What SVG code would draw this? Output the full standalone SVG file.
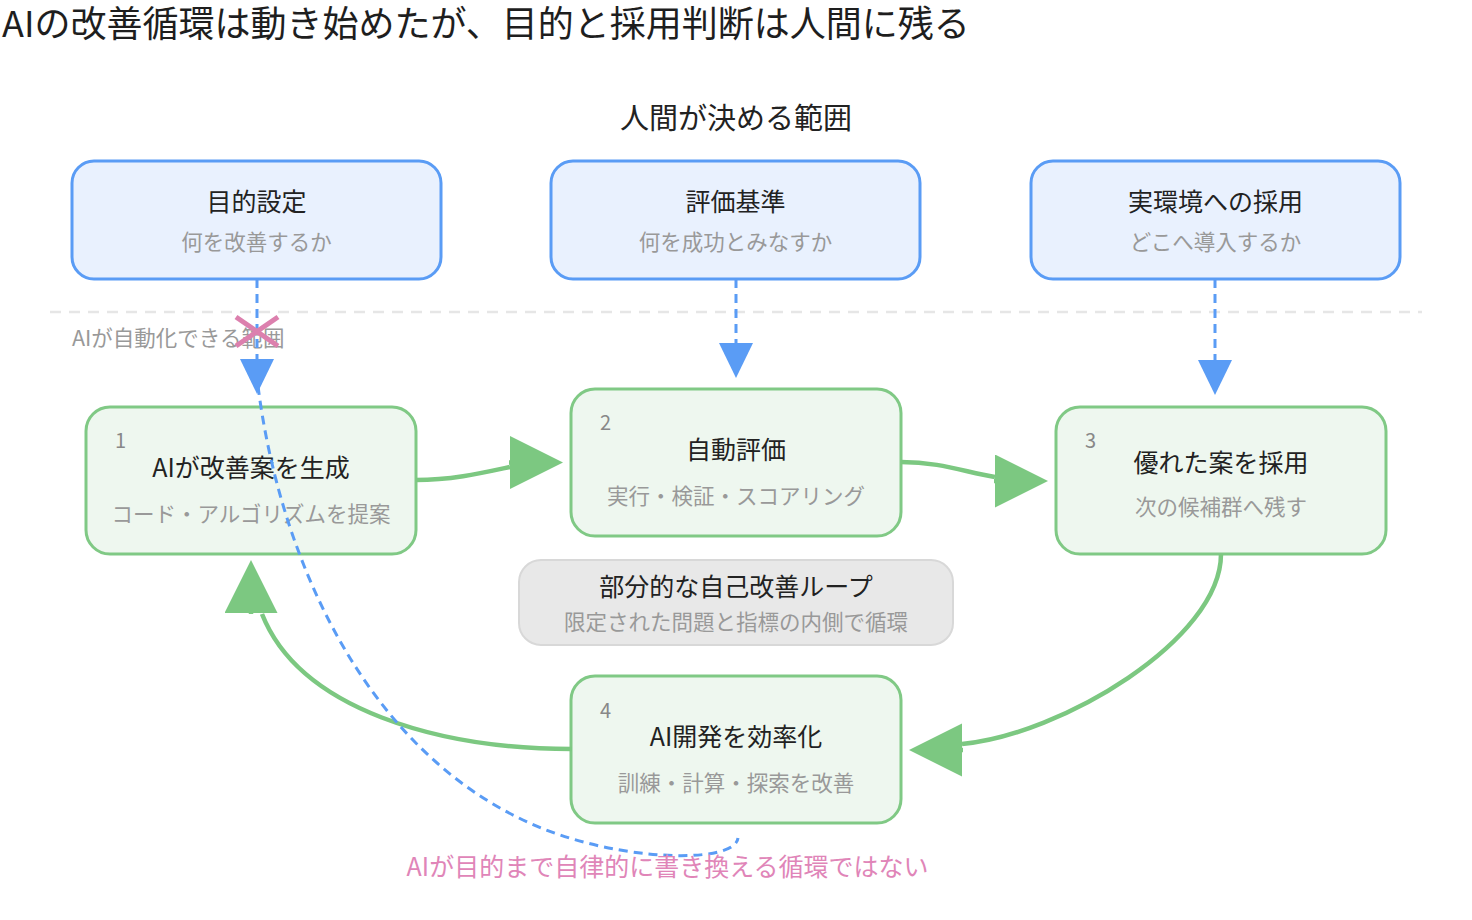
<svg xmlns="http://www.w3.org/2000/svg" width="1472" height="920" viewBox="0 0 1472 920">
  <style>
    text { font-family: "Noto Sans CJK JP", "Noto Sans", sans-serif; }
    .h1 { font-size: 36px; fill: #1e1e1e; }
    .h2 { font-size: 29px; fill: #222; text-anchor: middle; }
    .ttl { font-size: 25px; fill: #222; text-anchor: middle; }
    .sub { font-size: 21.5px; fill: #999; text-anchor: middle; }
    .num { font-size: 20px; fill: #888; }
    .human { fill: #e9f1fe; stroke: #5a9cf5; stroke-width: 3; }
    .ai { fill: #eef7ef; stroke: #80c985; stroke-width: 3; }
    .loop { fill: #e8e8e8; stroke: #d8d8d8; stroke-width: 2; }
    .flow { fill: none; stroke: #7cc881; stroke-width: 4.5; marker-end: url(#gArrow); }
    .ctrl { fill: none; stroke: #5a9cf5; stroke-width: 3; stroke-dasharray: 9 6; }
    .ctrlA { marker-end: url(#bArrow); }
    .sep { stroke: #e6e6e6; stroke-width: 2.5; stroke-dasharray: 11 8; }
    .zone { font-size: 21.5px; fill: #999; }
    .note { font-size: 25px; fill: #e085b8; text-anchor: middle; }
    .cross { stroke: #dc80ae; stroke-width: 5; stroke-linecap: butt; }
  </style>
  <defs>
    <marker id="gArrow" markerUnits="userSpaceOnUse" markerWidth="54" markerHeight="54" refX="0" refY="26.5" orient="auto">
      <path d="M0,0 L53,26.5 L0,53 Z" fill="#7cc881"/>
    </marker>
    <marker id="bArrow" markerUnits="userSpaceOnUse" markerWidth="36" markerHeight="36" refX="0" refY="17" orient="auto">
      <path d="M0,0 L35,17 L0,34 Z" fill="#5a9cf5"/>
    </marker>
  </defs>

  <rect width="1472" height="920" fill="#ffffff"/>

  <text class="h1" x="2" y="37">AIの改善循環は動き始めたが、目的と採用判断は人間に残る</text>
  <text class="h2" x="736" y="129">人間が決める範囲</text>

  <g id="goal">
    <rect class="human" x="72" y="161" width="369" height="118" rx="22"/>
    <text class="ttl" x="256.5" y="211">目的設定</text>
    <text class="sub" x="256.5" y="250">何を改善するか</text>
  </g>
  <g id="criteria">
    <rect class="human" x="551" y="161" width="369" height="118" rx="22"/>
    <text class="ttl" x="735.5" y="211">評価基準</text>
    <text class="sub" x="735.5" y="250">何を成功とみなすか</text>
  </g>
  <g id="deploy">
    <rect class="human" x="1031" y="161" width="369" height="118" rx="22"/>
    <text class="ttl" x="1215.5" y="211">実環境への採用</text>
    <text class="sub" x="1215.5" y="250">どこへ導入するか</text>
  </g>

  <g id="boundary">
    <line class="sep" x1="50" y1="312" x2="1422" y2="312"/>
    <text class="zone" x="72" y="346">AIが自動化できる範囲</text>
  </g>

  <g id="n1">
    <rect class="ai" x="86" y="407" width="330" height="147" rx="24"/>
    <text class="num" x="115" y="448">1</text>
    <text class="ttl" x="251" y="477">AIが改善案を生成</text>
    <text class="sub" x="251" y="522">コード・アルゴリズムを提案</text>
  </g>
  <g id="n2">
    <rect class="ai" x="571" y="389" width="330" height="147" rx="24"/>
    <text class="num" x="600" y="430">2</text>
    <text class="ttl" x="736" y="459">自動評価</text>
    <text class="sub" x="736" y="504">実行・検証・スコアリング</text>
  </g>
  <g id="n3">
    <rect class="ai" x="1056" y="407" width="330" height="147" rx="24"/>
    <text class="num" x="1085" y="448">3</text>
    <text class="ttl" x="1221" y="472">優れた案を採用</text>
    <text class="sub" x="1221" y="515">次の候補群へ残す</text>
  </g>
  <g id="n4">
    <rect class="ai" x="571" y="676" width="330" height="147" rx="24"/>
    <text class="num" x="600" y="718">4</text>
    <text class="ttl" x="736" y="746">AI開発を効率化</text>
    <text class="sub" x="736" y="791">訓練・計算・探索を改善</text>
  </g>
  <g id="loop">
    <rect class="loop" x="519" y="560" width="434" height="85" rx="22"/>
    <text class="ttl" x="736" y="596">部分的な自己改善ループ</text>
    <text class="sub" x="736" y="630">限定された問題と指標の内側で循環</text>
  </g>

  <g id="connectors">
    <path class="flow" d="M416,480 C452,480 482,473 510,467 M509,462.5 L510,462.5"/>
    <path class="flow" d="M901,462 C940,462 965,472 995,477 M994,481 L995,481"/>
    <path class="flow" d="M1221,554 C1221,640 1060,735 962,744 M963,750 L962,750"/>
    <path class="flow" d="M572,749 C440,749 300,710 262,614 M251,614 L251,613"/>
    <path class="ctrl ctrlA" d="M257,279 L257,359"/>
    <path class="ctrl ctrlA" d="M736,279 L736,343"/>
    <path class="ctrl ctrlA" d="M1215,279 L1215,360"/>
    <path class="ctrl" d="M258,386 C280,560 370,770 560,835 C640,862 735,862 738,838"/>
  </g>

  <g id="blocked">
    <line class="cross" x1="236" y1="317" x2="278" y2="346"/>
    <line class="cross" x1="278" y1="317" x2="236" y2="346"/>
  </g>

  <text class="note" x="667.5" y="876">AIが目的まで自律的に書き換える循環ではない</text>
</svg>
